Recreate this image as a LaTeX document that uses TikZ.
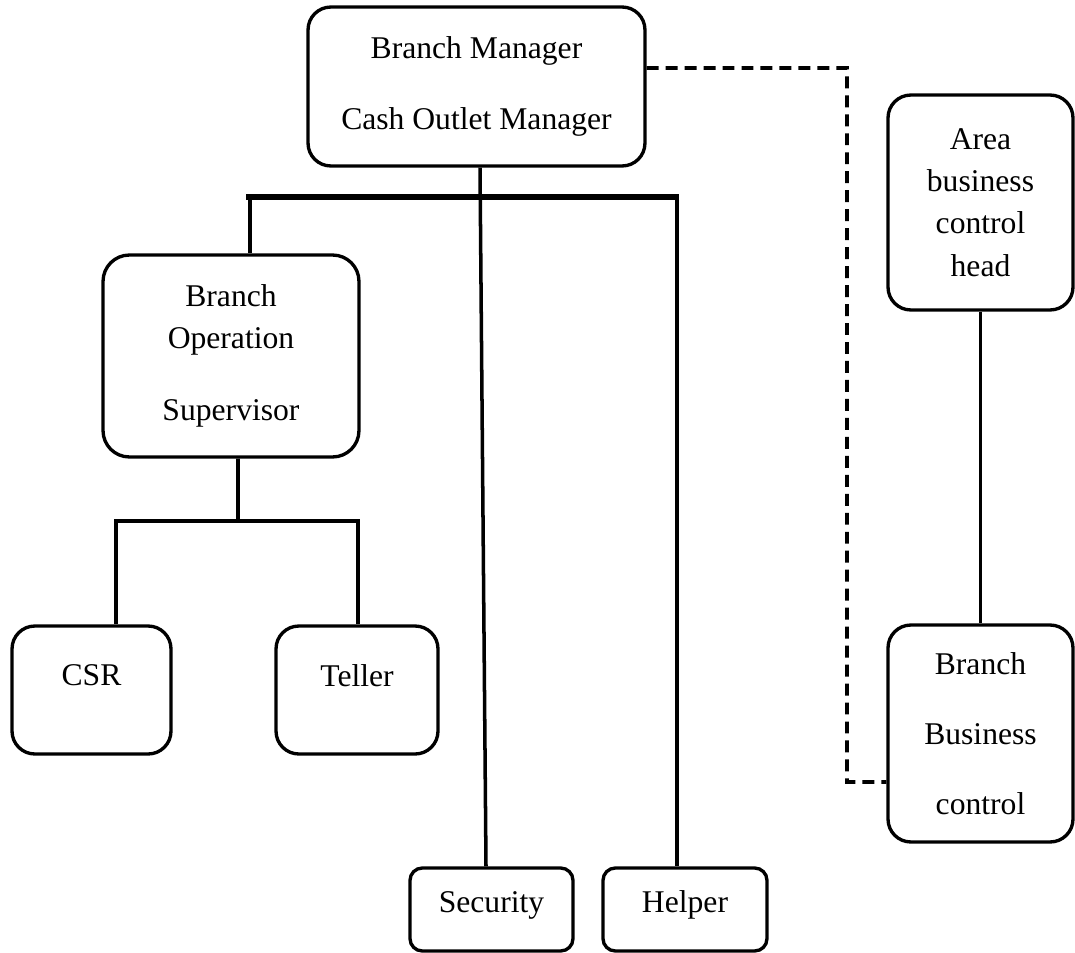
\documentclass[tikz,border=0pt]{standalone}
\usepackage{fontspec}
\setmainfont{Liberation Serif}

\begin{document}
\begin{tikzpicture}[x=0.02cm, y=-0.02cm,
  box/.style={draw, line width=1.9pt, rounded corners=13pt, align=center,
    inner sep=0pt, font=\fontsize{18}{24}\selectfont},
  smallbox/.style={box, rounded corners=7pt},
  link/.style={line width=2pt},
  bar/.style={line width=3.8pt},
  dashlink/.style={line width=2.1pt, dash pattern=on 6.8pt off 4pt}]
  \useasboundingbox (0,0) rectangle (1075,953);

  \node[box, minimum width=6.74cm, minimum height=3.18cm] (bm) at (476.5,86.5)
    {Branch Manager\\[16pt] Cash Outlet Manager};
  \node[box, minimum width=3.70cm, minimum height=4.30cm] (abc) at (980.5,202.5)
    {Area\\ business\\ control\\ head};
  \node[box, rounded corners=15pt, minimum width=5.12cm, minimum height=4.04cm] (bos) at (231,356)
    {Branch\\ Operation\\[17pt] Supervisor};
  \node[box, text depth=17pt, minimum width=3.18cm, minimum height=2.56cm] (csr) at (91.5,690) {CSR};
  \node[box, text depth=17pt, minimum width=3.24cm, minimum height=2.56cm] (tel) at (357,690) {Teller};
  \node[smallbox, text depth=9pt, minimum width=3.26cm, minimum height=1.66cm] (sec) at (491.5,909.5) {Security};
  \node[smallbox, text depth=9pt, minimum width=3.28cm, minimum height=1.66cm] (help) at (685,909.5) {Helper};
  \node[box, minimum width=3.70cm, minimum height=4.34cm] (bbc) at (980.5,733.5)
    {Branch\\[16pt] Business\\[16pt] control};

  % main bar under the manager
  \coordinate (barL) at (250,197);
  \coordinate (barR) at (677,197);
  \draw[link] ([xshift=0.07cm]bm.south) -- ([xshift=-0.11cm]sec.north);
  \draw[link] (barL) -- (barL |- bos.north);
  \draw[link] (barR) -- (barR |- help.north);
  \draw[bar] ([xshift=-2pt]barL) -- ([xshift=1pt]barR);

  % supervisor branch
  \coordinate (subC) at (238,521);
  \coordinate (subL) at (116,521);
  \coordinate (subR) at (358,521);
  \draw[link] ([xshift=0.14cm]bos.south) -- (subC);
  \draw[link] (csr.north -| subL) -- (subL) -- (subR) -- (subR |- tel.north);

  \draw[link] (abc.south) -- (bbc.north);

  % dotted report line
  \coordinate (dk) at (847,782);
  \draw[dashlink] ([yshift=0.37cm]bm.east) -| (dk) -- ([yshift=-0.97cm]bbc.west);
\end{tikzpicture}
\end{document}
